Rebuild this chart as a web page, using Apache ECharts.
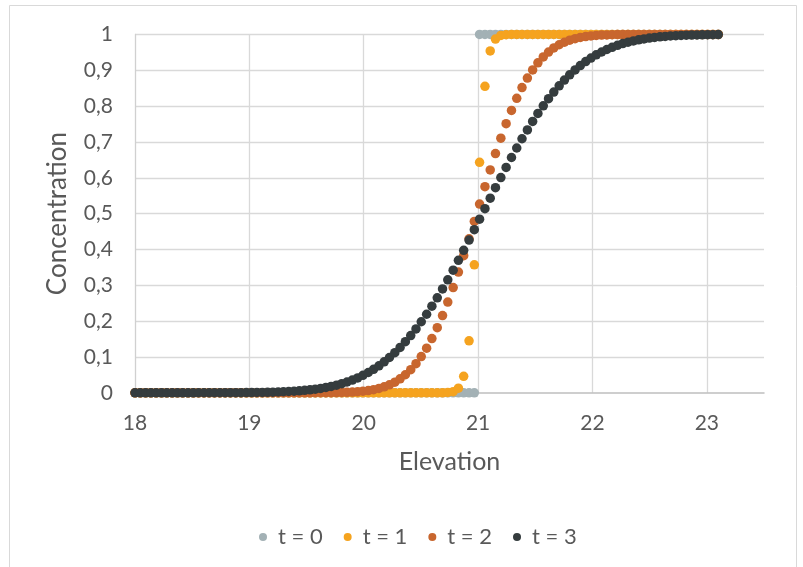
<!DOCTYPE html>
<html>
<head>
<meta charset="utf-8">
<script src="https://cdn.jsdelivr.net/npm/echarts@6/dist/echarts.min.js"></script>
<style>
html,body{margin:0;padding:0;background:#fff;}
#chart{width:803px;height:567px;}
</style>
</head>
<body>
<div id="chart"></div>
<script>
const elevation = [
18.000,18.046,18.093,18.139,18.185,18.232,18.278,18.325,18.371,18.417,
18.464,18.510,18.556,18.603,18.649,18.695,18.742,18.788,18.834,18.881,
18.927,18.974,19.020,19.066,19.113,19.159,19.205,19.252,19.298,19.344,
19.391,19.437,19.484,19.530,19.576,19.623,19.669,19.715,19.762,19.808,
19.854,19.901,19.947,19.993,20.040,20.086,20.133,20.179,20.225,20.272,
20.318,20.364,20.411,20.457,20.503,20.550,20.596,20.643,20.689,20.735,
20.782,20.828,20.874,20.921,20.967,21.013,21.060,21.106,21.152,21.199,
21.245,21.292,21.338,21.384,21.431,21.477,21.523,21.570,21.616,21.662,
21.709,21.755,21.801,21.848,21.894,21.941,21.987,22.033,22.080,22.126,
22.172,22.219,22.265,22.311,22.358,22.404,22.450,22.497,22.543,22.590,
22.636,22.682,22.729,22.775,22.821,22.868,22.914,22.960,23.007,23.053,
23.100
];
const t0 = [
0,0,0,0,0,0,0,0,0,0,
0,0,0,0,0,0,0,0,0,0,
0,0,0,0,0,0,0,0,0,0,
0,0,0,0,0,0,0,0,0,0,
0,0,0,0,0,0,0,0,0,0,
0,0,0,0,0,0,0,0,0,0,
0,0,0,0,0,1,1,1,1,1,
1,1,1,1,1,1,1,1,1,1,
1,1,1,1,1,1,1,1,1,1,
1,1,1,1,1,1,1,1,1,1,
1,1,1,1,1,1,1,1,1,1,
1
];
const t1 = [
0,0,0,0,0,0,0,0,0,0,
0,0,0,0,0,0,0,0,0,0,
0,0,0,0,0,0,0,0,0,0,
0,0,0,0,0,0,0,0,0,0,
0,0,0,0,0,0,0,0,0,0,
0,0,0,0,0,0,0,0,0,0.001,
0.003,0.013,0.046,0.145,0.357,0.643,0.855,0.954,0.987,0.997,
0.999,1,1,1,1,1,1,1,1,1,
1,1,1,1,1,1,1,1,1,1,
1,1,1,1,1,1,1,1,1,1,
1,1,1,1,1,1,1,1,1,1,
1
];
const t2 = [
0,0,0,0,0,0,0,0,0,0,
0,0,0,0,0,0,0,0,0,0,
0,0,0,0,0,0,0,0,0,0,
0,0,0,0,0.0001,0.0002,0.0003,0.0004,0.0006,0.001,
0.0014,0.0021,0.0031,0.0044,0.0063,0.0088,0.0122,0.0166,0.0224,0.0297,
0.039,0.0504,0.0644,0.0812,0.1011,0.1245,0.1513,0.1817,0.2156,0.253,
0.2936,0.3369,0.3825,0.4298,0.4781,0.5267,0.575,0.622,0.6675,0.7105,
0.7508,0.7879,0.8215,0.8515,0.878,0.901,0.9206,0.9371,0.9508,0.9621,
0.9711,0.9783,0.9839,0.9882,0.9915,0.9939,0.9957,0.997,0.998,0.9986,
0.9991,0.9994,0.9996,0.9998,0.9999,0.9999,1,1,1,1,
1,1,1,1,1,1,1,1,1,1,
1
];
const t3 = [
0,0,0,0,0,0,0,0,0,0,
0,0,0.0001,0.0001,0.0001,0.0001,0.0001,0.0002,0.0002,0.0003,
0.0004,0.0005,0.0007,0.0009,0.0011,0.0014,0.0018,0.0023,0.0029,0.0036,
0.0045,0.0055,0.0068,0.0083,0.0102,0.0123,0.0149,0.0179,0.0214,0.0255,
0.0301,0.0355,0.0416,0.0487,0.0566,0.0654,0.0754,0.0863,0.0985,0.112,
0.1265,0.1425,0.1596,0.1783,0.1982,0.2192,0.2416,0.265,0.2898,0.3153,
0.342,0.3696,0.3974,0.4262,0.4551,0.4844,0.5138,0.543,0.5722,0.6006,
0.6289,0.6565,0.683,0.7088,0.7334,0.7571,0.7794,0.8007,0.8207,0.8392,
0.8566,0.8725,0.8872,0.9008,0.9129,0.9241,0.934,0.9429,0.9509,0.9579,
0.9641,0.9695,0.9743,0.9784,0.9819,0.985,0.9875,0.9897,0.9916,0.9931,
0.9944,0.9955,0.9964,0.9971,0.9977,0.9982,0.9985,0.9989,0.9991,0.9993,
0.9995
];
const seriesNames = ['t = 0', 't = 1', 't = 2', 't = 3'];
const xTicks = [18, 19, 20, 21, 22, 23];
const yTicks = [0, 0.1, 0.2, 0.3, 0.4, 0.5, 0.6, 0.7, 0.8, 0.9, 1];

const colors = ['#a3b1b5', '#f5a31f', '#c8662e', '#353c3e'];
const font = 'Lato, "Open Sans", sans-serif';
const textColor = '#595959';

function pairs(vals) {
  return elevation.map(function (x, i) { return [x, vals[i]]; });
}
function fmtComma(v) {
  return String(Math.round(v * 10) / 10).replace('.', ',');
}

const allSeries = [t0, t1, t2, t3];
const chart = echarts.init(document.getElementById('chart'), null, {renderer: 'canvas'});
chart.setOption({
  animation: false,
  backgroundColor: '#ffffff',
  color: colors,
  graphic: [{
    type: 'rect', silent: true, z: -10,
    shape: {x: 9.5, y: 5.5, width: 787, height: 620},
    style: {fill: null, stroke: '#d9d9d9', lineWidth: 1}
  }],
  grid: {left: 135, right: 39, top: 34.4, bottom: 174.2, containLabel: false},
  xAxis: {
    type: 'value', min: 18, max: 23.5, interval: 1,
    name: 'Elevation', nameLocation: 'middle', nameGap: 57,
    nameTextStyle: {fontSize: 25, color: textColor, fontFamily: font},
    axisLine: {show: true, onZero: false, lineStyle: {color: '#bfbfbf', width: 1.5}},
    axisTick: {show: false},
    splitLine: {show: true, showMinLine: false, showMaxLine: false, lineStyle: {color: '#d9d9d9', width: 1.3}},
    axisLabel: {
      margin: 20, fontSize: 21, color: textColor, fontFamily: font,
      showMaxLabel: false,
      formatter: function (v) { return xTicks.indexOf(v) >= 0 ? String(v) : ''; }
    }
  },
  yAxis: {
    type: 'value', min: 0, max: 1, interval: 0.1,
    name: 'Concentration', nameLocation: 'middle', nameGap: 64, nameRotate: 90,
    nameTextStyle: {fontSize: 26, color: textColor, fontFamily: font},
    axisLine: {show: true, lineStyle: {color: '#d0d0d0', width: 1.3}},
    axisTick: {show: false},
    splitLine: {show: true, showMinLine: false, lineStyle: {color: '#d9d9d9', width: 1.3}},
    axisLabel: {
      margin: 22, fontSize: 21, color: textColor, fontFamily: font,
      formatter: function (v) {
        for (let k = 0; k < yTicks.length; k++) {
          if (Math.abs(yTicks[k] - v) < 1e-9) return fmtComma(yTicks[k]);
        }
        return '';
      }
    }
  },
  legend: {
    top: 521, left: 254,
    icon: 'circle', itemWidth: 8, itemHeight: 8, itemGap: 21,
    textStyle: {fontSize: 22, color: textColor, fontFamily: font, padding: [0, 0, 0, 6]},
    data: seriesNames
  },
  series: allSeries.map(function (vals, k) {
    return {
      name: seriesNames[k], type: 'scatter', symbol: 'circle', symbolSize: 9.5,
      z: 2 + k,
      itemStyle: {color: colors[k], opacity: 1},
      emphasis: {disabled: true},
      data: pairs(vals)
    };
  })
});
</script>
</body>
</html>
